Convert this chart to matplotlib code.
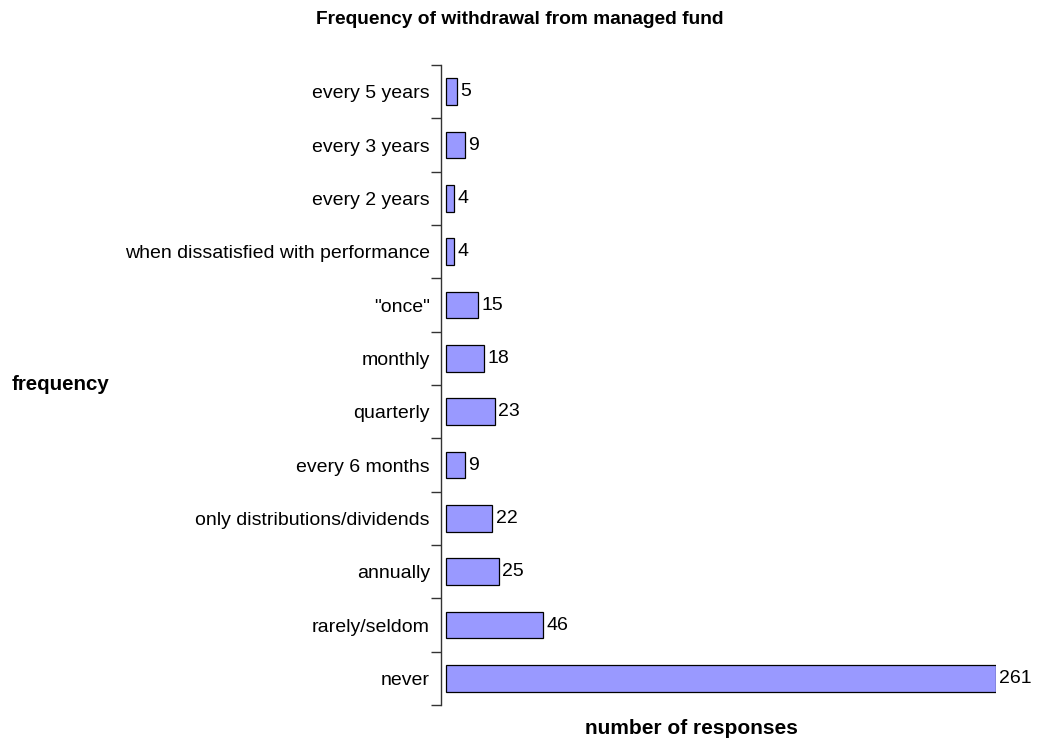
import matplotlib
matplotlib.use("Agg")
import matplotlib.pyplot as plt
import numpy as np

plt.rcParams['font.family'] = ['Liberation Sans', 'DejaVu Sans']

categories = ["never", "rarely/seldom", "annually", "only distributions/dividends",
              "every 6 months", "quarterly", "monthly", "\"once\"",
              "when dissatisfied with performance", "every 2 years",
              "every 3 years", "every 5 years"]
values = [261, 46, 25, 22, 9, 23, 18, 15, 4, 4, 9, 5]

W, H = 1040, 740
fig = plt.figure(figsize=(W/100, H/100), dpi=100)
ax = fig.add_axes([441/W, 1-705/H, (996-441)/W, (705-65)/H])

y = np.arange(len(categories))
ax.barh(y, values, height=0.5, color='#9999FF', edgecolor='black', linewidth=0.9)
ax.set_xlim(-2.4, 261)
ax.set_ylim(-0.5, len(categories)-0.5)

for yi, v in zip(y, values):
    ax.text(v + 1.6, yi, str(v), va='center', ha='left', fontsize=14, clip_on=False)

ax.set_yticks(y)
ax.set_yticklabels(categories, fontsize=14)
ax.tick_params(axis='y', which='major', length=0, pad=8)
ax.set_yticks(np.arange(-0.5, len(categories), 1), minor=True)
ax.tick_params(axis='y', which='minor', length=7, width=1, color='#333333', direction='out')
ax.set_xticks([])
for s in ['top', 'right', 'bottom']:
    ax.spines[s].set_visible(False)
ax.spines['left'].set_color('#333333')
ax.spines['left'].set_linewidth(1)

fig.text(520/W, 1-20/H, "Frequency of withdrawal from managed fund", ha='center', va='center',
         fontsize=13.8, fontweight='bold')
fig.text(12/W, 1-385/H, "frequency", ha='left', va='center', fontsize=14.8, fontweight='bold')
fig.text(691/W, 1-729/H, "number of responses", ha='center', va='center', fontsize=15, fontweight='bold')

fig.savefig("out.png", dpi=100)
